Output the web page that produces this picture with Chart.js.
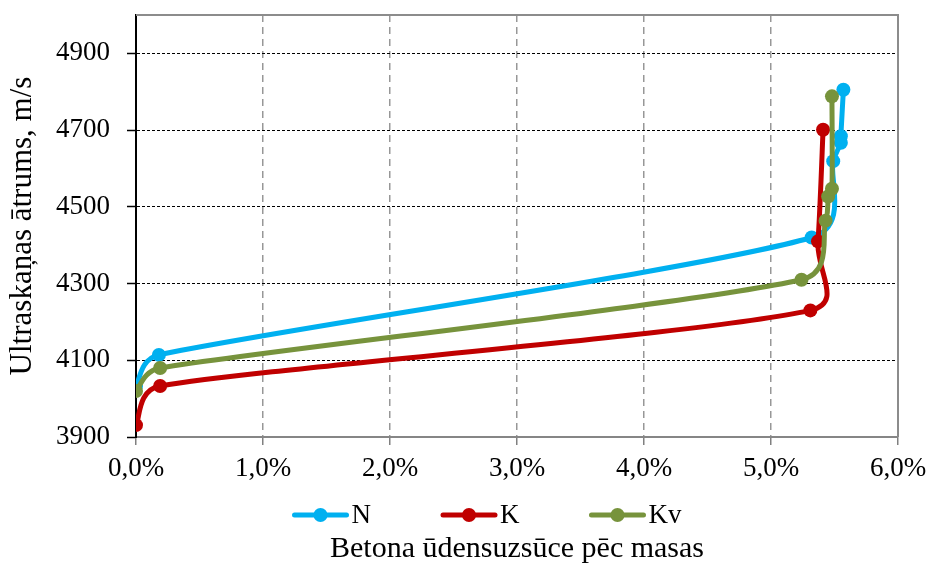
<!DOCTYPE html>
<html>
<head>
<meta charset="utf-8">
<script src="https://cdn.jsdelivr.net/npm/chart.js@4.4.1/dist/chart.umd.min.js"></script>
<style>
  html, body { margin: 0; padding: 0; background: #fff; }
  #wrap { width: 926px; height: 567px; }
</style>
</head>
<body>
<div id="wrap"><canvas id="myChart" width="926" height="567"></canvas></div>
<script>
// data (x in %, y in m/s)
const seriesNames = ['N', 'K', 'Kv'];
const seriesColors = ['#00B0F0', '#C00000', '#77933C'];

const nX = [0, 0.18, 5.32, 5.49, 5.55, 5.55, 5.57];
const nY = [4033, 4114, 4420, 4619, 4667, 4684, 4805];

const kX = [0, 0.19, 5.31, 5.37, 5.41];
const kY = [3931, 4033, 4230, 4410, 4701];

const kvX = [0, 0.19, 5.24, 5.43, 5.45, 5.48, 5.48];
const kvY = [4020, 4080, 4310, 4464, 4527, 4547, 4788];

const xTicks = [0, 1, 2, 3, 4, 5, 6];
const yTicks = [3900, 4100, 4300, 4500, 4700, 4900];

const xTitle = 'Betona ūdensuzsūce pēc masas';
const yTitle = 'Ultraskaņas ātrums, m/s';

const FONT = "'Liberation Serif', 'Times New Roman', serif";

function toPoints(xs, ys) {
    return xs.map((x, i) => ({ x: x, y: ys[i] }));
}

function makeSet(i, xs, ys) {
    return {
        label: seriesNames[i],
        data: toPoints(xs, ys),
        showLine: true,
        borderColor: seriesColors[i],
        backgroundColor: seriesColors[i],
        borderWidth: 5,
        pointRadius: 7,
        pointHoverRadius: 7,
        pointBorderWidth: 0,
        tension: 0.4,
        order: 3 - i
    };
}

// Excel-like smoothing: control arms = (next - prev) / 6, capped at half the segment
const excelSmooth = {
    id: 'excelSmooth',
    beforeDatasetsDraw(chart) {
        chart.getSortedVisibleDatasetMetas().forEach(meta => {
            const pts = meta.data;
            for (let i = 0; i < pts.length; i++) {
                const cur = pts[i];
                const prev = pts[i - 1] || cur;
                const next = pts[i + 1] || cur;
                let dx = (next.x - prev.x) / 6;
                let dy = (next.y - prev.y) / 6;
                const len = Math.hypot(dx, dy) || 1;
                const dIn = Math.hypot(cur.x - prev.x, cur.y - prev.y);
                const dOut = Math.hypot(next.x - cur.x, next.y - cur.y);
                const kIn = Math.min(1, dIn * 0.5 / len);
                const kOut = Math.min(1, dOut * 0.5 / len);
                cur.cp1x = cur.x - dx * kIn;
                cur.cp1y = cur.y - dy * kIn;
                cur.cp2x = cur.x + dx * kOut;
                cur.cp2y = cur.y + dy * kOut;
            }
            if (meta.dataset) {
                meta.dataset._pointsUpdated = true;
                meta.dataset._path = undefined;
            }
        });
    }
};

// top + right frame of the plot
const frame = {
    id: 'frame',
    beforeDatasetsDraw(chart) {
        const { ctx, chartArea: a } = chart;
        ctx.save();
        ctx.strokeStyle = '#8C8C8C';
        ctx.lineWidth = 2;
        ctx.beginPath();
        ctx.moveTo(a.left, a.top);
        ctx.lineTo(a.right, a.top);
        ctx.lineTo(a.right, a.bottom);
        ctx.stroke();
        ctx.restore();
    }
};

// Excel-style legend (line + marker) between tick labels and axis title
const lineLegend = {
    id: 'lineLegend',
    afterDraw(chart) {
        const ctx = chart.ctx;
        const y = 515;
        const lineW = 56, gap = 3, spacing = 70;
        ctx.save();
        ctx.font = '27px ' + FONT;
        ctx.textBaseline = 'middle';
        const items = chart.data.datasets.map(ds => ({
            label: ds.label, color: ds.borderColor, w: lineW + gap + ctx.measureText(ds.label).width
        }));
        const total = items.reduce((s, it) => s + it.w, 0) + spacing * (items.length - 1);
        let x = 487 - total / 2;
        items.forEach(it => {
            ctx.strokeStyle = it.color;
            ctx.fillStyle = it.color;
            ctx.lineWidth = 5;
            ctx.lineCap = 'round';
            ctx.beginPath();
            ctx.moveTo(x + 2, y);
            ctx.lineTo(x + lineW - 2, y);
            ctx.stroke();
            ctx.beginPath();
            ctx.arc(x + lineW / 2, y, 7, 0, Math.PI * 2);
            ctx.fill();
            ctx.fillStyle = '#000';
            ctx.fillText(it.label, x + lineW + gap, y + 1);
            x += it.w + spacing;
        });
        ctx.restore();
    }
};

Chart.defaults.font.family = FONT;
Chart.defaults.color = '#000';

const ctx = document.getElementById('myChart').getContext('2d');
const myChart = new Chart(ctx, {
    type: 'scatter',
    data: {
        datasets: [makeSet(0, nX, nY), makeSet(1, kX, kY), makeSet(2, kvX, kvY)]
    },
    options: {
        responsive: false,
        devicePixelRatio: 1,
        animation: false,
        layout: { padding: { top: 15, right: 28, bottom: 0, left: 0 } },
        plugins: {
            legend: { display: false },
            tooltip: { enabled: false }
        },
        scales: {
            x: {
                type: 'linear',
                min: 0,
                max: 6,
                afterBuildTicks: s => { s.ticks = xTicks.map(v => ({ value: v })); },
                afterFit: s => {
                    s.height = 130;
                    s.paddingLeft = 0;
                    s.paddingRight = 0;
                },
                ticks: {
                    font: { size: 27 },
                    padding: 8,
                    maxRotation: 0,
                    callback: v => v.toFixed(1).replace('.', ',') + '%'
                },
                grid: {
                    color: c => (c.tick && c.tick.value === 0) ? 'rgba(0,0,0,0)' : '#979797',
                    lineWidth: 1.5,
                    tickLength: 8,
                    tickColor: '#808080',
                    tickWidth: 1.5
                },
                border: { color: '#868686', width: 2, dash: [7, 5] },
                title: {
                    display: true,
                    text: xTitle,
                    font: { size: 30 },
                    padding: { top: 0, bottom: 0 }
                }
            },
            y: {
                type: 'linear',
                min: 3900,
                max: 5000,
                afterBuildTicks: s => { s.ticks = yTicks.map(v => ({ value: v })); },
                afterFit: s => {
                    s.width = 136;
                    s.paddingTop = 0;
                    s.paddingBottom = 0;
                },
                ticks: {
                    font: { size: 27 },
                    padding: 17,
                    callback: v => String(v)
                },
                grid: {
                    color: c => (c.tick && c.tick.value === 3900) ? 'rgba(0,0,0,0)' : '#000',
                    lineWidth: 1,
                    tickLength: 9,
                    tickColor: '#000',
                    tickWidth: 1.5
                },
                border: { color: '#000', width: 2, dash: [3, 2] },
                title: {
                    display: true,
                    text: yTitle,
                    font: { size: 31 },
                    padding: { top: 4, bottom: 0 }
                }
            }
        }
    },
    plugins: [excelSmooth, frame, lineLegend]
});
</script>
</body>
</html>
